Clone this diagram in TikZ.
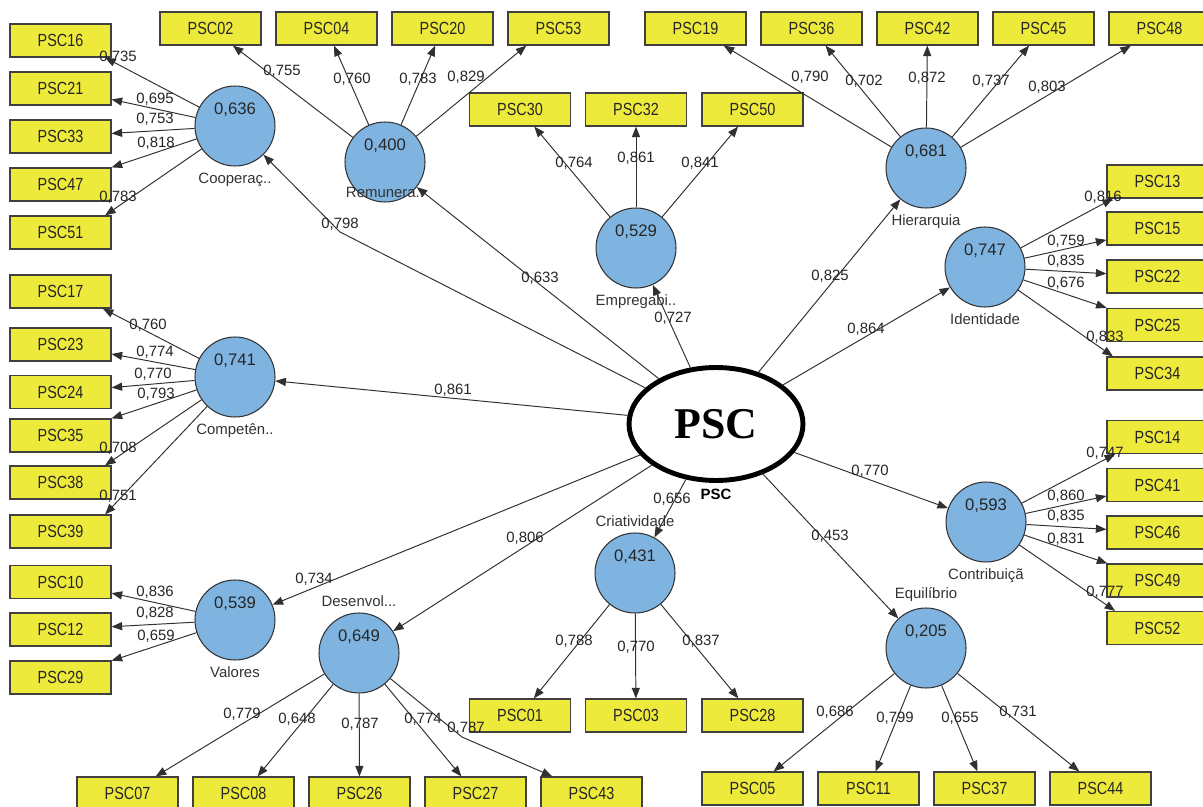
\documentclass[tikz,border=0pt]{standalone}
\usepackage{fontspec}
\setmainfont{Liberation Sans}
\newfontfamily\boxfont[FakeStretch=0.82]{Liberation Sans}
\newfontfamily\bigfont{Liberation Serif}
\usetikzlibrary{arrows.meta,shapes.geometric}

\definecolor{boxyellow}{HTML}{EEEA3C}
\definecolor{latblue}{HTML}{7FB4E1}
\definecolor{edgegray}{HTML}{303030}

\tikzset{
  item/.style={draw=black!75, line width=0.7pt, fill=boxyellow, minimum width=2.02cm,
    minimum height=0.66cm, inner sep=0pt, text=black!85, font=\boxfont\fontsize{10}{12}\selectfont},
  latent/.style={circle, draw=black!80, line width=0.6pt, fill=latblue, minimum size=1.6cm, inner sep=0pt},
  val/.style={font=\fontsize{9.5}{11}\selectfont, yshift=9pt, text=black!85},
  lname/.style={font=\fontsize{8.5}{10}\selectfont, text=black!80},
  load/.style={draw=edgegray, line width=0.55pt, -{Triangle[length=6pt,width=4.6pt]}},
  coef/.style={font=\fontsize{8.5}{10}\selectfont, inner sep=0pt, text=black!85},
}

% loadings of one construct: target/value/label x/label y
\newcommand{\loads}[2]{%
  \foreach \t/\v/\lx/\ly [count=\i] in {#2}{
    \draw[load] (#1) -- (\t);
    \node[coef] (#1-\i) at (\lx,\ly) {\v};
  }%
}

\begin{document}
\begin{tikzpicture}[x=0.02cm, y=-0.02cm]
  % Canvas
  \fill[white] (0,0) rectangle (1203,807);
  \useasboundingbox (0,0) rectangle (1203,807);

  % Indicators
  \foreach \n/\x/\y in {
    02/210.5/28.5, 04/326.5/28.5, 20/442.5/28.5, 53/558.5/28.5,
    19/695.5/28.5, 36/811.5/28.5, 42/927.5/28.5, 45/1043.5/28.5, 48/1159.5/28.5,
    30/520/109.5, 32/636/109.5, 50/752.5/109.5,
    16/60.5/40.5, 21/60.5/88.5, 33/60.5/136.5, 47/60.5/184.5, 51/60.5/232.5,
    17/60.5/291.5, 23/60.5/344.5, 24/60.5/392, 35/60.5/435.5, 38/60.5/482.5, 39/60.5/531.5,
    10/60.5/582, 12/60.5/629.5, 29/60.5/677.5,
    13/1157.5/181.5, 15/1157.5/228.5, 22/1157.5/276.5, 25/1157.5/325, 34/1157.5/373.5,
    14/1157.5/437, 41/1157.5/485, 46/1157.5/532.5, 49/1157.5/580.5, 52/1157.5/628,
    01/520/715.5, 03/636/715.5, 28/752.5/715.5,
    05/752.5/788.5, 11/868.5/788.5, 37/984.5/788.5, 44/1100.5/788.5,
    07/127.5/793.5, 08/243.5/793.5, 26/359.5/793.5, 27/475.5/793.5, 43/591.5/793.5}{
    \node[item] (psc\n) at (\x,\y) {PSC\n};
  }

  % Constructs
  \node[latent, label={[val]center:0,636}, label={[lname]below:Cooperaç..}] (coop) at (235,126) {};
  \node[latent, label={[val]center:0,400}, label={[lname,yshift=-17.5pt]center:Remunera..}] (remu) at (385,162) {};
  \node[latent, label={[val]center:0,529}, label={[lname]below:Empregabi..}] (empr) at (636,248) {};
  \node[latent, label={[val]center:0,681}, label={[lname]below:Hierarquia}] (hier) at (926,168) {};
  \node[latent, label={[val]center:0,747}, label={[lname]below:Identidade}] (iden) at (985,267) {};
  \node[latent, label={[val]center:0,741}, label={[lname]below:Competên..}] (comp) at (235,377) {};
  \node[latent, label={[val]center:0,593}, label={[lname]below:Contribuiçã}] (contr) at (986,522) {};
  \node[latent, label={[val]center:0,539}, label={[lname]below:Valores}] (valo) at (235,620) {};
  \node[latent, label={[val]center:0,649}, label={[lname]above:Desenvol...}] (dese) at (359,653) {};
  \node[latent, label={[val]center:0,431}, label={[lname]above:Criatividade}] (cria) at (635,573) {};
  \node[latent, label={[val]center:0,205}, label={[lname]above:Equilíbrio}] (equi) at (926,648) {};

  % Second order construct
  \node[ellipse, draw, line width=2.8pt, fill=white, minimum width=3.48cm, minimum height=2.26cm,
    font=\bigfont\bfseries\fontsize{25}{30}\selectfont,
    label={[font=\bfseries\fontsize{8.5}{10}\selectfont]below:PSC}] (psc) at (716,424) {PSC};

  % Paths from PSC
  \coordinate (bcoop) at (340,232);
  \draw[load] (psc) -- (bcoop) -- (coop);
  \node[coef] (psc-0) at (340,224) {0,798};
  \loads{psc}{remu/{0,633}/540/278, empr/{0,727}/673/318, comp/{0,861}/453/390,
    hier/{0,825}/830/276, iden/{0,864}/866/329, contr/{0,770}/870/471,
    equi/{0,453}/830/536, cria/{0,656}/672/499, dese/{0,806}/525/538, valo/{0,734}/314/579}

  % Outer loadings
  \loads{coop}{psc16.-21/{0,735}/118/57, psc21/{0,695}/155/99, psc33/{0,753}/155/119,
    psc47/{0,818}/156/143, psc51.21/{0,783}/118/197}
  \loads{remu}{psc02/{0,755}/282/71, psc04/{0,760}/352/79, psc20/{0,783}/418/79,
    psc53.-152/{0,829}/466/77}
  \loads{empr}{psc30/{0,764}/574/163, psc32/{0,861}/636/158, psc50/{0,841}/700/163}
  \loads{hier}{psc19/{0,790}/810/77, psc36/{0,702}/864/81, psc42/{0,872}/927/78,
    psc45/{0,737}/991/81, psc48/{0,803}/1047/87}
  \loads{iden}{psc13.-159/{0,816}/1103/197, psc15/{0,759}/1066/241, psc22/{0,835}/1066/261,
    psc25/{0,676}/1066/283, psc34.159/{0,833}/1105/337}
  \loads{comp}{psc17.-22/{0,760}/148/325, psc23/{0,774}/155/352, psc24/{0,770}/153/374,
    psc35/{0,793}/156/394, psc38.21/{0,708}/118/448, psc39.21/{0,751}/118/496}
  \loads{contr}{psc14.-158/{0,747}/1105/453, psc41/{0,860}/1066/496, psc46/{0,835}/1066/516,
    psc49/{0,831}/1066/539, psc52.158/{0,777}/1105/592}
  \loads{valo}{psc10/{0,836}/155/592, psc12/{0,828}/155/613, psc29/{0,659}/156/636}
  \loads{dese}{psc07/{0,779}/242/714, psc08/{0,648}/297/719, psc26/{0,787}/360/724,
    psc27/{0,774}/423/719}
  \coordinate (b43) at (462,737);
  \draw[load] (dese) -- (b43) -- (psc43);
  \node[coef] (dese-5) at (466,728) {0,787};
  \loads{cria}{psc01/{0,788}/574/641, psc03/{0,770}/636/647, psc28/{0,837}/701/641}
  \loads{equi}{psc05/{0,686}/835/712, psc11/{0,799}/895/718, psc37/{0,655}/960/718,
    psc44/{0,731}/1018/712}
\end{tikzpicture}
\end{document}
